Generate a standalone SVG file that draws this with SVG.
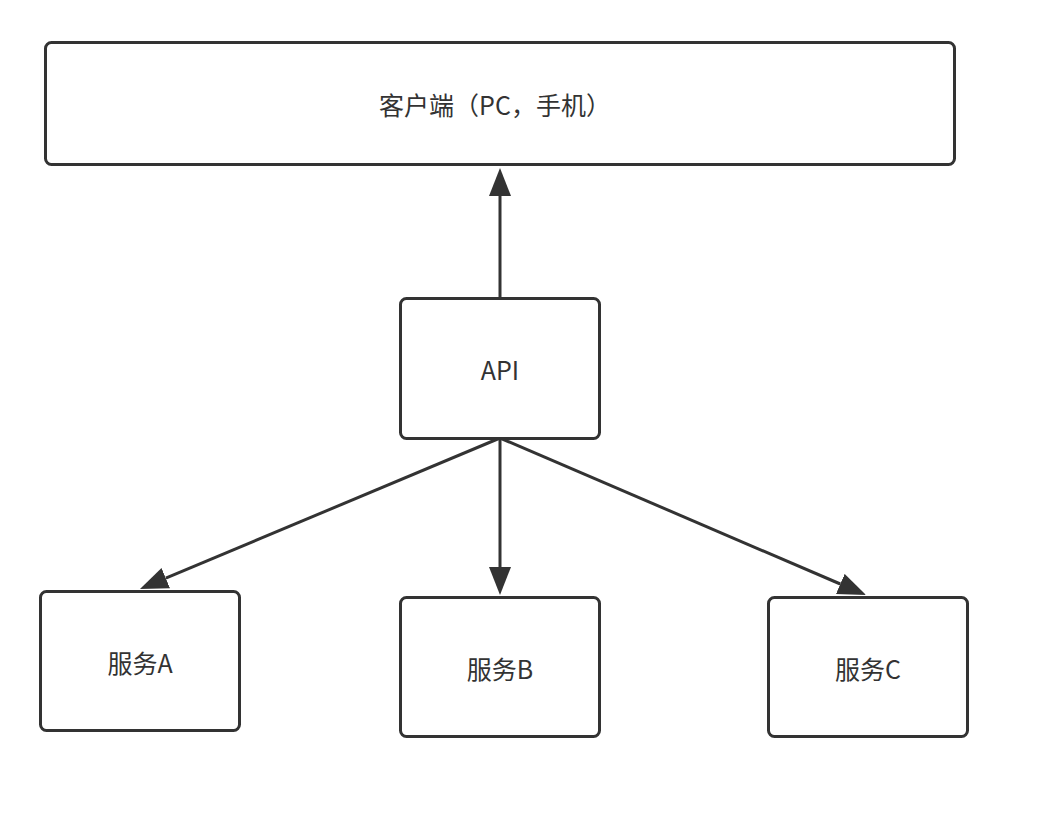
<svg xmlns="http://www.w3.org/2000/svg" width="1058" height="822" viewBox="0 0 1058 822">
<style>
.box{fill:#fff;stroke:#333;stroke-width:3}
.lbl{font-family:"Noto Sans CJK SC","Noto Sans",sans-serif;font-size:25px;fill:#333;text-anchor:middle;dominant-baseline:central}
.edge{stroke:#333;stroke-width:3;fill:none}
</style>
<defs>
<marker id="arr" markerUnits="userSpaceOnUse" viewBox="0 0 28 22" refX="0" refY="11" markerWidth="28" markerHeight="22" orient="auto">
<path d="M0,0 L28,11 L0,22 Z" fill="#333"/>
</marker>
</defs>
<rect width="1058" height="822" fill="#fff"/>
<g id="connectors">
<path class="edge" d="M500,298 L500,196" marker-end="url(#arr)"/>
<path class="edge" d="M500,438 L165.8,578.2" marker-end="url(#arr)"/>
<path class="edge" d="M500,438 L500,567" marker-end="url(#arr)"/>
<path class="edge" d="M500,438 L840.3,584" marker-end="url(#arr)"/>
</g>
<g id="client">
<rect class="box" x="45.5" y="42.5" width="909" height="122" rx="6"/>
<text class="lbl" x="495" y="104">客户端（PC，手机）</text>
</g>
<g id="api">
<rect class="box" x="400.5" y="298.5" width="199" height="140" rx="6"/>
<text class="lbl" x="500" y="369">API</text>
</g>
<g id="serviceA">
<rect class="box" x="40.5" y="591.5" width="199" height="139" rx="6"/>
<text class="lbl" x="140" y="662">服务A</text>
</g>
<g id="serviceB">
<rect class="box" x="400.5" y="597.5" width="199" height="139" rx="6"/>
<text class="lbl" x="500" y="668">服务B</text>
</g>
<g id="serviceC">
<rect class="box" x="768.5" y="597.5" width="199" height="139" rx="6"/>
<text class="lbl" x="868" y="668">服务C</text>
</g>
</svg>
